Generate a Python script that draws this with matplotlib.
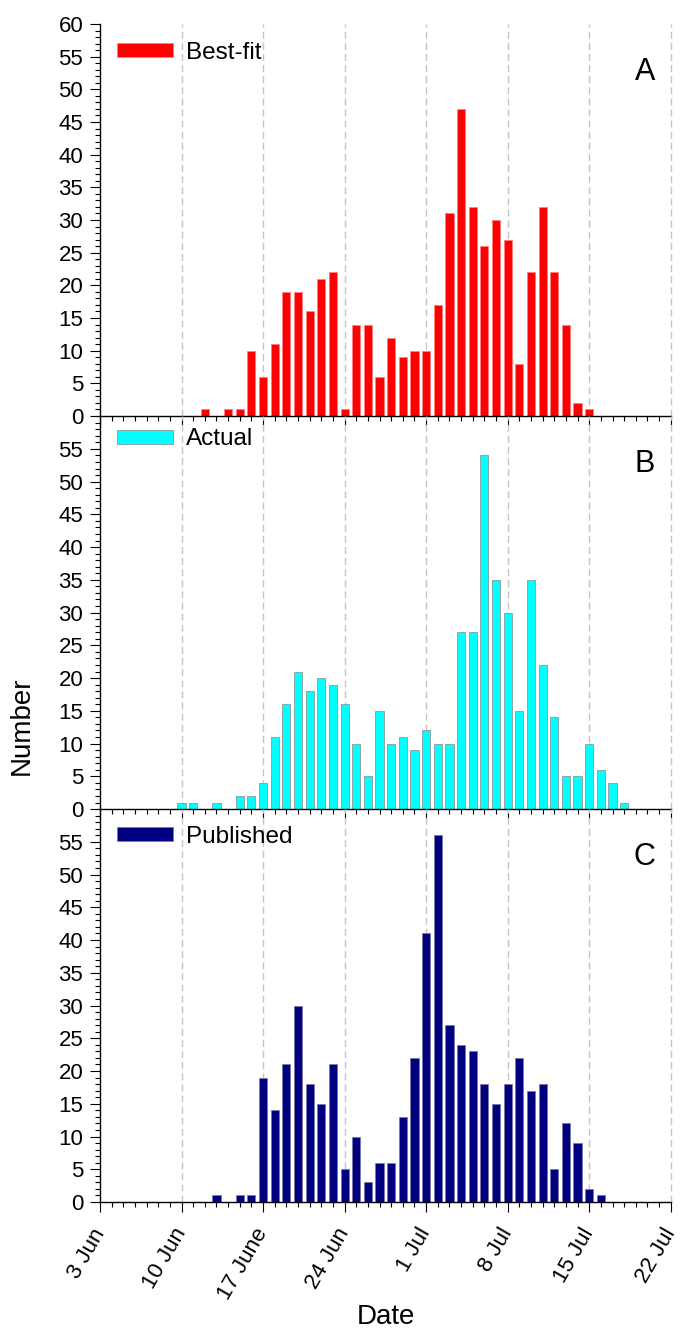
import matplotlib

matplotlib.use("Agg")
import matplotlib.dates as mdates
import matplotlib.pyplot as plt
import numpy as np
import pandas as pd
from matplotlib.patches import Patch
from matplotlib.ticker import MultipleLocator

plt.rcParams.update({
    "font.family": ["Liberation Sans", "DejaVu Sans"],
    "font.size": 16,
    "axes.linewidth": 1.0,
})

# daily counts, 10 Jun .. 18 Jul (year is arbitrary, only day/month shown)
DAYS = pd.date_range("2000-06-10", "2000-07-18", freq="D")
BEST_FIT = [0, 0, 1, 0, 1, 1, 10, 6, 11, 19, 19, 16, 21, 22, 1, 14, 14, 6, 12, 9, 10,
            10, 17, 31, 47, 32, 26, 30, 27, 8, 22, 32, 22, 14, 2, 1, 0, 0, 0]
ACTUAL = [1, 1, 0, 1, 0, 2, 2, 4, 11, 16, 21, 18, 20, 19, 16, 10, 5, 15, 10, 11, 9,
          12, 10, 10, 27, 27, 54, 35, 30, 15, 35, 22, 14, 5, 5, 10, 6, 4, 1]
PUBLISHED = [0, 0, 0, 1, 0, 1, 1, 19, 14, 21, 30, 18, 15, 21, 5, 10, 3, 6, 6, 13, 22,
             41, 56, 27, 24, 23, 18, 15, 18, 22, 17, 18, 5, 12, 9, 2, 1, 0, 0]

TICK_DATES = pd.date_range("2000-06-03", "2000-07-22", freq="7D")
TICK_LABELS = ["3 Jun", "10 Jun", "17 June", "24 Jun", "1 Jul", "8 Jul", "15 Jul", "22 Jul"]

# (values, legend label, panel letter, face, edge, [left, bottom, width, height], legend y)
PANELS = [
    (BEST_FIT,  "Best-fit",  "A", "#ff0000", "#ff8080", [0.1468, 0.6877, 0.8385, 0.2943], 0.926),
    (ACTUAL,    "Actual",    "B", "#00ffff", "#8a9a9a", [0.1468, 0.3926, 0.8385, 0.2950], 0.941),
    (PUBLISHED, "Published", "C", "#000080", "#7a7aa8", [0.1468, 0.0976, 0.8385, 0.2950], 0.929),
]

x = mdates.date2num(DAYS.to_pydatetime())
ticks = mdates.date2num(TICK_DATES.to_pydatetime())

fig = plt.figure(figsize=(6.81, 13.32), dpi=100)
axes = []
for vals, label, letter, face, edge, rect, leg_y in PANELS:
    ax = fig.add_axes(rect)
    ax.patch.set_visible(False)
    vals = np.array(vals)
    keep = vals > 0
    ax.bar(x[keep], vals[keep], width=0.7, color=face, edgecolor=edge,
           linewidth=0.6, zorder=2)

    ax.set_xlim(ticks[0], ticks[-1] + 0.02)
    ax.set_ylim(0, 60)
    ax.set_xticks(ticks)
    ax.xaxis.set_minor_locator(MultipleLocator(1))
    ax.set_xticklabels([])
    yt = np.arange(0, 61, 5) if letter == "A" else np.arange(0, 56, 5)
    ax.set_yticks(yt)
    ax.yaxis.set_minor_locator(MultipleLocator(1))
    ax.tick_params(which="major", direction="out", length=7, width=0.8, labelsize=16, pad=5)
    ax.tick_params(which="minor", direction="out", length=3.3, width=0.8)

    ax.spines["top"].set_visible(False)
    ax.spines["right"].set_visible(False)
    for t in ticks[1:]:
        ax.axvline(t, color="#c4c4c4", linestyle=(0, (5, 3)), linewidth=1.0,
                   zorder=0.5, clip_on=False)

    ax.legend(handles=[Patch(facecolor=face, edgecolor=edge, linewidth=0.6)],
              labels=[label], loc="center left", bbox_to_anchor=(0.03, leg_y),
              frameon=False, fontsize=17.5, handlelength=2.3, handleheight=0.5,
              handletextpad=0.55, borderpad=0, borderaxespad=0)
    ax.text(0.954, 0.877, letter, transform=ax.transAxes, fontsize=22,
            ha="center", va="center")
    axes.append(ax)

bottom = axes[-1]
bottom.set_xticklabels(TICK_LABELS, rotation=60, ha="right", va="center",
                       rotation_mode="anchor")
bottom.tick_params(axis="x", which="major", pad=13)
bottom.set_xlabel("Date", fontsize=20, labelpad=0)

fig.text(0.032, 0.455, "Number", rotation=90, fontsize=20, ha="center", va="center")

fig.savefig("out.png", dpi=100)
